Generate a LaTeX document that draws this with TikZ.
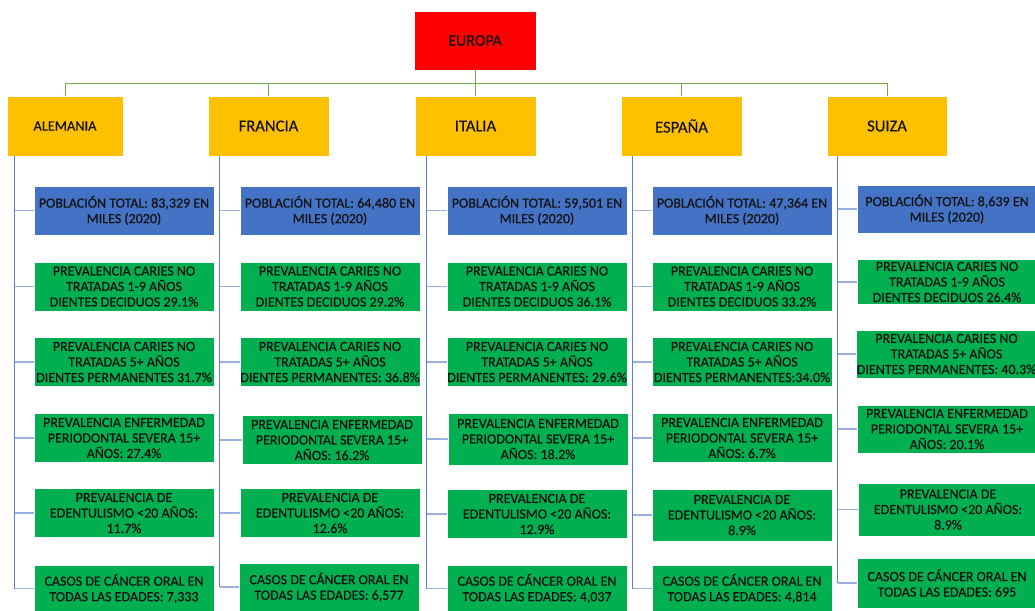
\documentclass[tikz,border=0pt]{standalone}
\usepackage{fontspec}
\setmainfont{Carlito}[FakeBold=0.35]
\definecolor{eured}{HTML}{FF0000}
\definecolor{orng}{HTML}{FFC000}
\definecolor{pblue}{HTML}{4472C4}
\definecolor{ggreen}{HTML}{00B050}
\definecolor{busgreen}{HTML}{70AD47}
\definecolor{vblue}{HTML}{5B7FD0}
\definecolor{hblue}{HTML}{9AB0E0}
\definecolor{txt}{HTML}{111111}
\begin{document}
\begin{tikzpicture}[x=1pt,y=-1pt,
 box/.style={draw=white,line width=0.6pt,inner sep=0pt,align=center,text=txt},
 topbox/.style={box,fill=eured,minimum width=122pt,minimum height=59pt,font=\fontsize{16}{19}\selectfont},
 cbox/.style={box,fill=orng,minimum width=121pt,minimum height=60pt,font=\fontsize{16.6}{19}\selectfont},
 pbox/.style={box,fill=pblue,minimum width=180pt,minimum height=49pt,font=\fontsize{14}{15.5}\selectfont},
 gbox/.style={box,fill=ggreen,minimum width=180pt,minimum height=49pt,font=\fontsize{14}{15.5}\selectfont},
 bus/.style={draw=busgreen,line width=1pt},
 vl/.style={draw=vblue,line width=1pt},
 hl/.style={draw=hblue,line width=1.2pt}]
\clip (0,0) rectangle (1035,610);
\fill[white] (0,0) rectangle (1035,610);

% top
\node[topbox] (eu) at (475,40.5) {EUROPA};
% countries
\node[cbox,minimum width=116pt,font=\fontsize{14.3}{17}\selectfont] (ale) at (65,126) {ALEMANIA};
\node[cbox] (fra) at (268.5,126) {FRANCIA};
\node[cbox] (ita) at (475.5,126) {ITALIA};
\node[cbox] (esp) at (681.5,126) {ESPAÑA};
\node[cbox,minimum width=120pt] (sui) at (887,126) {SUIZA};

% bus
\draw[bus] (eu.south) -- ++(0,13) coordinate (busc);
\foreach \c in {ale,fra,ita,esp,sui}{\draw[bus] (busc) -| (\c.north);}

% ALEMANIA
\node[pbox] (a0) at (124,210.5) {POBLACIÓN TOTAL: 83,329 EN\\MILES (2020)};
\node[gbox] (a1) at (124,286.5) {PREVALENCIA CARIES NO\\TRATADAS 1-9 AÑOS\\DIENTES DECIDUOS 29.1\%};
\node[gbox] (a2) at (124,362) {PREVALENCIA CARIES NO\\TRATADAS 5+ AÑOS\\DIENTES PERMANENTES 31.7\%};
\node[gbox] (a3) at (124,438) {PREVALENCIA ENFERMEDAD\\PERIODONTAL SEVERA 15+\\AÑOS: 27.4\%};
\node[gbox] (a4) at (124,513) {PREVALENCIA DE\\EDENTULISMO <20 AÑOS:\\11.7\%};
\node[gbox,minimum height=47pt] (a5) at (124,588.5) {CASOS DE CÁNCER ORAL EN\\TODAS LAS EDADES: 7,333};

% FRANCIA
\node[pbox] (f0) at (330,210.5) {POBLACIÓN TOTAL: 64,480 EN\\MILES (2020)};
\node[gbox] (f1) at (330,286.5) {PREVALENCIA CARIES NO\\TRATADAS 1-9 AÑOS\\DIENTES DECIDUOS 29.2\%};
\node[gbox] (f2) at (330,362) {PREVALENCIA CARIES NO\\TRATADAS 5+ AÑOS\\DIENTES PERMANENTES: 36.8\%};
\node[gbox] (f3) at (332,440) {PREVALENCIA ENFERMEDAD\\PERIODONTAL SEVERA 15+\\AÑOS: 16.2\%};
\node[gbox] (f4) at (330,513) {PREVALENCIA DE\\EDENTULISMO <20 AÑOS:\\12.6\%};
\node[gbox,minimum height=48pt] (f5) at (329,587) {CASOS DE CÁNCER ORAL EN\\TODAS LAS EDADES: 6,577};

% ITALIA
\node[pbox] (i0) at (537,210.5) {POBLACIÓN TOTAL: 59,501 EN\\MILES (2020)};
\node[gbox] (i1) at (537,286.5) {PREVALENCIA CARIES NO\\TRATADAS 1-9 AÑOS\\DIENTES DECIDUOS 36.1\%};
\node[gbox] (i2) at (537,362) {PREVALENCIA CARIES NO\\TRATADAS 5+ AÑOS\\DIENTES PERMANENTES: 29.6\%};
\node[gbox,minimum height=52pt] (i3) at (538,439) {PREVALENCIA ENFERMEDAD\\PERIODONTAL SEVERA 15+\\AÑOS: 18.2\%};
\node[gbox] (i4) at (537,514) {PREVALENCIA DE\\EDENTULISMO <20 AÑOS:\\12.9\%};
\node[gbox,minimum height=47pt] (i5) at (537,588.5) {CASOS DE CÁNCER ORAL EN\\TODAS LAS EDADES: 4,037};

% ESPAÑA
\node[pbox] (e0) at (742,210.5) {POBLACIÓN TOTAL: 47,364 EN\\MILES (2020)};
\node[gbox] (e1) at (742,286.5) {PREVALENCIA CARIES NO\\TRATADAS 1-9 AÑOS\\DIENTES DECIDUOS 33.2\%};
\node[gbox] (e2) at (742,362) {PREVALENCIA CARIES NO\\TRATADAS 5+ AÑOS\\DIENTES PERMANENTES:34.0\%};
\node[gbox] (e3) at (742,438) {PREVALENCIA ENFERMEDAD\\PERIODONTAL SEVERA 15+\\AÑOS: 6.7\%};
\node[gbox,minimum height=52pt] (e4) at (742,515) {PREVALENCIA DE\\EDENTULISMO <20 AÑOS:\\8.9\%};
\node[gbox,minimum height=47pt] (e5) at (742,588.5) {CASOS DE CÁNCER ORAL EN\\TODAS LAS EDADES: 4,814};

% SUIZA
\node[pbox,minimum height=48pt] (s0) at (947,209) {POBLACIÓN TOTAL: 8,639 EN\\MILES (2020)};
\node[gbox,minimum height=45pt] (s1) at (947,282) {PREVALENCIA CARIES NO\\TRATADAS 1-9 AÑOS\\DIENTES DECIDUOS 26.4\%};
\node[gbox,minimum height=48pt] (s2) at (946.5,354) {PREVALENCIA CARIES NO\\TRATADAS 5+ AÑOS\\DIENTES PERMANENTES: 40.3\%};
\node[gbox,minimum height=48pt] (s3) at (947,429) {PREVALENCIA ENFERMEDAD\\PERIODONTAL SEVERA 15+\\AÑOS: 20.1\%};
\node[gbox,minimum height=53pt] (s4) at (948,509.5) {PREVALENCIA DE\\EDENTULISMO <20 AÑOS:\\8.9\%};
\node[gbox,minimum height=50pt] (s5) at (947,583) {CASOS DE CÁNCER ORAL EN\\TODAS LAS EDADES: 695};

% vertical feeders
\coordinate (vale) at ([xshift=8pt]ale.south west);
\coordinate (vfra) at ([xshift=12pt]fra.south west);
\coordinate (vita) at ([xshift=12pt]ita.south west);
\coordinate (vesp) at ([xshift=12pt]esp.south west);
\coordinate (vsui) at ([xshift=11pt]sui.south west);
\foreach \v/\p in {vale/a,vfra/f,vita/i,vesp/e,vsui/s}{
  \draw[vl] (\v) -- (\v |- \p5.west);
  \foreach \k in {0,...,5}{\draw[hl] (\v |- \p\k.west) -- (\p\k.west);}
}
\end{tikzpicture}
\end{document}
